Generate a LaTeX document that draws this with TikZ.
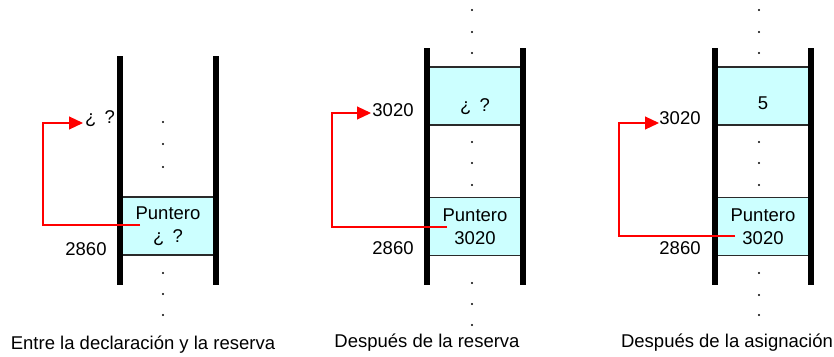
\documentclass[tikz,border=0pt]{standalone}
\usepackage{fontspec}
\setmainfont{Liberation Sans}
\usetikzlibrary{arrows.meta}
\definecolor{cellfill}{HTML}{CCFFFF}
\definecolor{cellline}{HTML}{2A2A2A}
\definecolor{ptrred}{HTML}{FF0000}
\begin{document}
\begin{tikzpicture}[x=1pt,y=-1pt,
  every node/.style={font=\fontsize{18.5}{22.5}\selectfont, inner sep=0pt},
  bar/.style={line width=6pt},
  cell/.style={draw=cellline, line width=1.6pt, fill=cellfill, minimum width=96pt, minimum height=58pt, align=center},
  ptr/.style={draw=ptrred, line width=1.1pt, -{Triangle[length=14pt,width=13pt]}},
  dotmark/.style={fill=black}]
\useasboundingbox (0,0) rectangle (834,356);

% ---------- panel 1 ----------
\node[cell] (p1) at (168,226) {Puntero\\[1pt]¿ \,?};
\draw[bar] (120,56) -- (120,285);
\draw[bar] (216,56) -- (216,285);
\node (a1) at (100,119) {¿ \,?};
\node (n1) at (86,249) {2860};
\foreach \y in {122,144,167,273,294,315} \fill[dotmark] (163,\y) circle (1.1);
\coordinate (s1) at (140,225);
\coordinate (c1) at (43,123);
\coordinate (t1) at (83,123);
\draw[ptr] (s1) -| (c1) -- (t1);
\node (cap1) at (143,345) {Entre la declaración y la reserva};

% ---------- panel 2 ----------
\node[cell, text height=30pt, text depth=0pt] (q2) at (475,96) {¿ \,?};
\node[cell] (p2) at (475,226.5) {Puntero\\[1pt]3020};
\draw[bar] (427,48) -- (427,285);
\draw[bar] (523,48) -- (523,285);
\node (a2) at (393,110) {3020};
\node (n2) at (393,248) {2860};
\foreach \y in {10,32,53,142,163,185,283,304,325} \fill[dotmark] (472,\y) circle (1.1);
\coordinate (s2) at (447,227);
\coordinate (c2) at (332,113);
\coordinate (t2) at (371,113);
\draw[ptr] (s2) -| (c2) -- (t2);
\node (cap2) at (427,343) {Después de la reserva};

% ---------- panel 3 ----------
\node[cell, text height=27pt, text depth=0pt] (q3) at (763,96) {5};
\node[cell] (p3) at (763,226.5) {Puntero\\[1pt]3020};
\draw[bar] (715,48) -- (715,285);
\draw[bar] (811,48) -- (811,285);
\node (a3) at (680,118) {3020};
\node (n3) at (680,248) {2860};
\foreach \y in {10,32,53,142,163,185,273,295,315} \fill[dotmark] (759,\y) circle (1.1);
\coordinate (s3) at (735,236);
\coordinate (c3) at (619,123);
\coordinate (t3) at (659,123);
\draw[ptr] (s3) -| (c3) -- (t3);
\node (cap3) at (727,343) {Después de la asignación};
\end{tikzpicture}
\end{document}
